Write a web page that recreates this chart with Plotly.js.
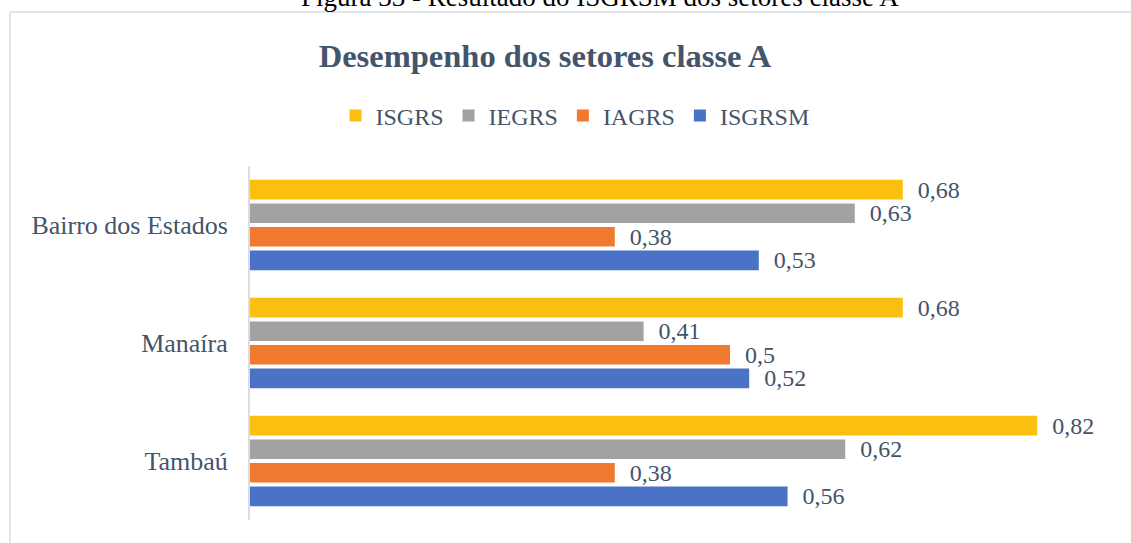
<!DOCTYPE html>
<html>
<head>
<meta charset="utf-8">
<script src="https://cdn.plot.ly/plotly-3.0.1.min.js"></script>
<style>html,body{margin:0;padding:0;background:#fff;}#chart{width:1131px;height:543px;}</style>
</head>
<body>
<div id="chart"></div>
<script>
const categories = ["Bairro dos Estados", "Manaíra", "Tambaú"];
const seriesNames = ["ISGRS", "IEGRS", "IAGRS", "ISGRSM"];
const ISGRS = [0.68, 0.68, 0.82];
const IEGRS = [0.63, 0.41, 0.62];
const IAGRS = [0.38, 0.5, 0.38];
const ISGRSM = [0.53, 0.52, 0.56];
const seriesValues = [ISGRS, IEGRS, IAGRS, ISGRSM];
const colors = ["#FBBF10", "#A2A2A2", "#F07A30", "#4A73C8"];
const chartTitle = "Desempenho dos setores classe A";
const figureCaption = "Figura 33 - Resultado do ISGRSM dos setores classe A";

const W = 1131, H = 543;
const mL = 250, mR = 17, mT = 166, mB = 23;
const pw = W - mL - mR, ph = H - mT - mB;
const px = x => (x - mL) / pw;
const py = y => (H - mB - y) / ph;

const fmt = v => String(v).replace('.', ',');
const textColor = "#44546A";
const serif = "Liberation Serif, Times New Roman, serif";

const traces = seriesNames.map((name, i) => ({
  type: 'bar',
  orientation: 'h',
  name: name,
  y: categories,
  x: seriesValues[i],
  text: seriesValues[i].map(v => '\u00a0\u00a0' + fmt(v)),
  textposition: 'outside',
  constraintext: 'none',
  cliponaxis: false,
  textfont: {family: serif, size: 24, color: textColor},
  marker: {color: colors[i], line: {width: 0}},
  hoverinfo: 'none'
}));

const lineColor = "#D9DDE4";
const layout = {
  width: W, height: H,
  margin: {l: mL, r: mR, t: mT, b: mB},
  paper_bgcolor: '#fff', plot_bgcolor: '#fff',
  barmode: 'group', bargap: 0.2, bargroupgap: 0.17,
  showlegend: true,
  title: {
    text: chartTitle,
    font: {family: serif, size: 32.5, color: textColor, weight: 'bold'},
    x: 545 / W, xanchor: 'center', y: 1 - 56 / H, yanchor: 'middle'
  },
  legend: {
    orientation: 'h', xref: 'container', yref: 'container',
    x: 575 / W, xanchor: 'center', y: 1 - 116 / H, yanchor: 'middle',
    font: {family: serif, size: 24, color: textColor},
    traceorder: 'normal'
  },
  xaxis: {range: [0, 0.9], visible: false, fixedrange: true},
  yaxis: {
    type: 'category', autorange: 'reversed',
    showline: true, linecolor: lineColor, linewidth: 2,
    showgrid: false, zeroline: false, ticks: '',
    ticklabelstandoff: 15,
    tickfont: {family: serif, size: 26, color: textColor}
  },
  shapes: [
    {type: 'line', xref: 'paper', yref: 'paper', x0: px(10), x1: px(10), y0: py(12), y1: py(560), line: {color: lineColor, width: 1.5}},
    {type: 'line', xref: 'paper', yref: 'paper', x0: px(10), x1: px(1140), y0: py(12), y1: py(12), line: {color: lineColor, width: 1.5}}
  ],
  annotations: [
    {text: figureCaption, xref: 'paper', yref: 'paper', x: px(600), y: py(14), xanchor: 'center', yanchor: 'bottom', showarrow: false, font: {family: serif, size: 27, color: '#000'}}
  ]
};

Plotly.newPlot('chart', traces, layout, {displayModeBar: false, staticPlot: true});
</script>
</body>
</html>
